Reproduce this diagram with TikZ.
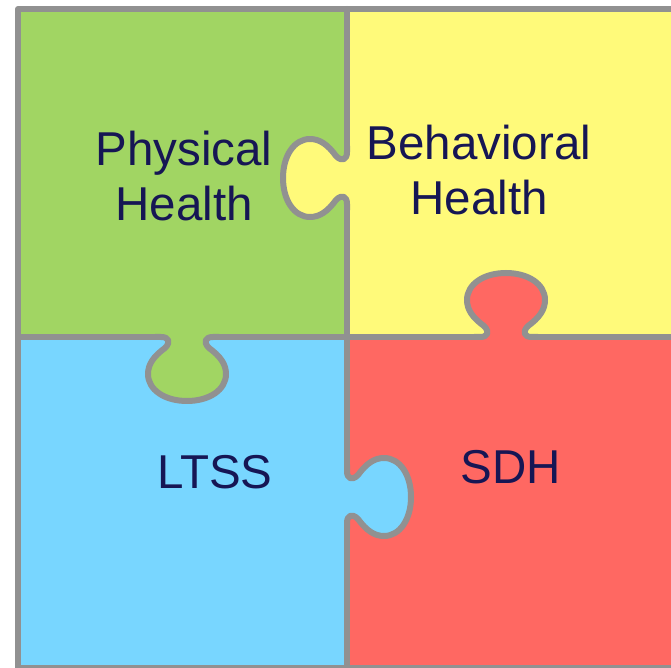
\documentclass[tikz,border=0pt]{standalone}
\usepackage{fontspec}
\setmainfont{Liberation Sans}
\definecolor{phgreen}{RGB}{161,213,99}
\definecolor{bhyellow}{RGB}{255,250,122}
\definecolor{ltblue}{RGB}{120,214,255}
\definecolor{sdhred}{RGB}{255,104,98}
\definecolor{edgegray}{RGB}{145,145,145}
\definecolor{labelnavy}{RGB}{22,22,84}
\begin{document}
\begin{tikzpicture}[x=1pt,y=1pt,
  edge/.style={draw=edgegray,line width=6pt,line join=round,line cap=round},
  label/.style={text=labelnavy,font=\fontsize{47.5}{55}\selectfont,align=center,inner sep=0pt},
  knob/.pic={
    \fill[pic actions](-26,-4)--(-26,0) .. controls (-18,0) and (-16,5) .. (-22,11)
      .. controls (-33,19) and (-39,27) .. (-39,37)
      .. controls (-39,53) and (-22,64) .. (0,64)
      .. controls (22,64) and (39,53) .. (39,37)
      .. controls (39,27) and (33,19) .. (22,11)
      .. controls (16,5) and (18,0) .. (26,0)--(26,-4)--cycle;
    \draw[edge](-32,0)--(-26,0) .. controls (-18,0) and (-16,5) .. (-22,11)
      .. controls (-33,19) and (-39,27) .. (-39,37)
      .. controls (-39,53) and (-22,64) .. (0,64)
      .. controls (22,64) and (39,53) .. (39,37)
      .. controls (39,27) and (33,19) .. (22,11)
      .. controls (16,5) and (18,0) .. (26,0)--(32,0);
  }]
\useasboundingbox(0,0)rectangle(671,667);
\clip(0,0)rectangle(671,667);
%
\fill[phgreen](18,330)rectangle(347,658);
\fill[bhyellow](347,330)rectangle(680,658);
\fill[ltblue](18,-1)rectangle(347,330);
\fill[sdhred](347,-1)rectangle(680,330);
%
\coordinate(top)at(347,658);
\coordinate(bottom)at(347,-13);
\coordinate(left)at(18,330);
\coordinate(right)at(680,330);
\coordinate(kph)at(347,489);
\coordinate(klt)at(347,170);
\coordinate(kbh)at(187,330);
\coordinate(ksd)at(506,330);
%
\pic[fill=bhyellow,rotate=90]at(kph){knob};
\pic[fill=ltblue,rotate=-90]at(klt){knob};
\pic[fill=phgreen,rotate=180]at(kbh){knob};
\pic[fill=sdhred]at(ksd){knob};
%
\draw[edge](top)--([yshift=32]kph);
\draw[edge]([yshift=-32]kph)--([yshift=32]klt);
\draw[edge]([yshift=-32]klt)--(bottom);
\draw[edge](left)--([xshift=-32]kbh);
\draw[edge]([xshift=32]kbh)--([xshift=-32]ksd);
\draw[edge]([xshift=32]ksd)--(right);
\draw[edge](680,658)--(18,658)--(18,-1)--(680,-1);
%
\node[label](ph)at(184,491){Physical\\Health};
\node[label](bh)at(479,497){Behavioral\\Health};
\node[label,anchor=base](lt)at(215,179){LTSS};
\node[label,anchor=base](sd)at(511,184){SDH};
\end{tikzpicture}
\end{document}
